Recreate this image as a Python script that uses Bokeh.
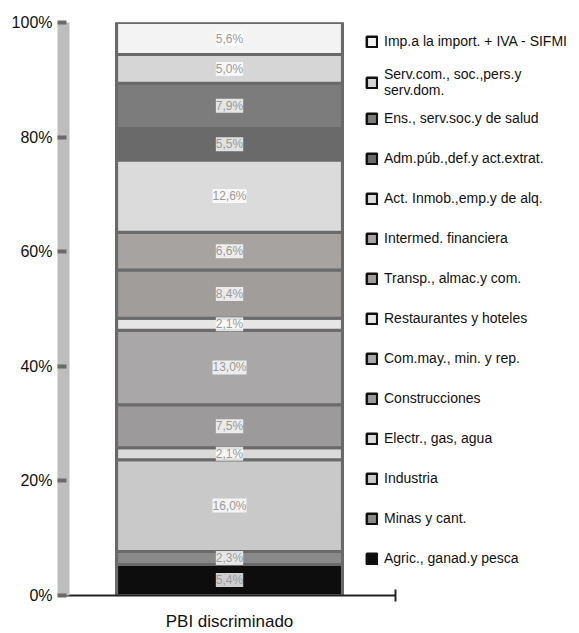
import numpy as np
from bokeh.plotting import figure
from bokeh.models import (Legend, LegendItem, FixedTicker, PrintfTickFormatter, LinearAxis,
                          LabelSet, ColumnDataSource)
from bokeh.core.properties import value
from bokeh.embed import file_html
from bokeh.resources import INLINE

# Sectors, bottom of the stack first
sectors = [
    "Agric., ganad.y pesca",
    "Minas y cant.",
    "Industria",
    "Electr., gas, agua",
    "Construcciones",
    "Com.may., min. y rep.",
    "Restaurantes y hoteles",
    "Transp., almac.y com.",
    "Intermed. financiera",
    "Act. Inmob.,emp.y de alq.",
    "Adm.púb.,def.y act.extrat.",
    "Ens., serv.soc.y de salud",
    "Serv.com., soc.,pers.y\nserv.dom.",
    "Imp.a la import. + IVA - SIFMI",
]
shares = [5.4, 2.3, 16.0, 2.1, 7.5, 13.0, 2.1, 8.4, 6.6, 12.6, 5.5, 7.9, 5.0, 5.6]
colors = ["#0d0d0d", "#8a8a8a", "#c9c9c9", "#dadada", "#9c9a9a", "#a9a7a7", "#e6e6e6",
          "#a19d9b", "#a7a3a1", "#dbdbdb", "#6a6a6a", "#7c7c7c", "#d6d6d6", "#f3f3f3"]
category = "PBI discriminado"
y_ticks = [0, 20, 40, 60, 80, 100]

tops = np.cumsum(shares)
bottoms = tops - np.array(shares)
mids = (tops + bottoms) / 2
share_labels = [f"{v:.1f}%".replace(".", ",") for v in shares]

p = figure(width=579, height=633, x_range=(0, 1.554), y_range=(0, 100),
           output_backend="svg", toolbar_location=None,
           min_border_left=63, min_border_right=0, min_border_top=22, min_border_bottom=37)
p.outline_line_color = None
p.xgrid.grid_line_color = None
p.ygrid.grid_line_color = None

# legend swatches: black-edged boxes under the bar segments
items = []
for lab, c, b, t in zip(sectors, colors, bottoms, tops):
    r = p.vbar(x=[0.5], width=0.68, bottom=[b], top=[t], fill_color=c,
               line_color="#111111", line_width=2.5)
    items.append(LegendItem(label=lab, renderers=[r]))
# visible bar segments with grey separators
for c, b, t in zip(colors, bottoms, tops):
    p.vbar(x=[0.5], width=0.68, bottom=[b], top=[t], fill_color=c,
           line_color="#6a6a6a", line_width=3)

# faint data labels in white boxes down the middle of the bar
lab_src = ColumnDataSource(dict(x=[0.5] * len(shares), y=mids, text=share_labels))
p.add_layout(LabelSet(x="x", y="y", text="text", source=lab_src,
                      text_align="center", text_baseline="middle",
                      text_font=value("Liberation Sans"), text_font_size=value("12px"),
                      text_color="#9a9a9a", text_line_height=1.6,
                      background_fill_color="white", background_fill_alpha=0.8))

items = items[::-1]
common = dict(orientation="vertical", glyph_width=13, glyph_height=13,
              padding=0, margin=0, label_standoff=6,
              border_line_color=None, background_fill_alpha=0,
              label_text_font="Liberation Sans", label_text_font_size="14px",
              label_text_color="#111111", label_text_line_height=1.15)

legend_top = Legend(items=items[:2], location=(302, 497), label_height=20, spacing=15, **common)
legend_rest = Legend(items=items[2:], location=(302, 27), label_height=20, spacing=20, **common)
p.add_layout(legend_top, "center")
p.add_layout(legend_rest, "center")

# y axis
ya = p.yaxis[0]
ya.ticker = FixedTicker(ticks=y_ticks, minor_ticks=[])
ya.formatter = PrintfTickFormatter(format="%d%%")
ya.axis_line_color = "#bdbdbd"
ya.axis_line_width = 12
ya.major_tick_line_color = "#6a6a6a"
ya.major_tick_line_width = 4
ya.major_tick_in = 3
ya.major_tick_out = 6
ya.major_label_standoff = 5
ya.major_label_text_font = "Liberation Sans"
ya.major_label_text_font_size = "16px"
ya.major_label_text_color = "#111111"

# x axis line (only across the bar area, ending with a tick)
xa = p.xaxis[0]
xa.bounds = (0, 1)
xa.ticker = FixedTicker(ticks=[1.0], minor_ticks=[])
xa.major_label_overrides = {1.0: ""}
xa.major_label_text_font_size = "0px"
xa.major_label_standoff = 0
xa.axis_line_color = "#222222"
xa.axis_line_width = 2
xa.major_tick_line_color = "#222222"
xa.major_tick_line_width = 2
xa.major_tick_in = 6
xa.major_tick_out = 6

# category label under the bar
xcat = LinearAxis(ticker=FixedTicker(ticks=[0.5], minor_ticks=[]),
                  major_label_overrides={0.5: category})
xcat.axis_line_color = None
xcat.major_tick_line_color = None
xcat.major_tick_out = 0
xcat.major_tick_in = 0
xcat.major_label_standoff = 10
xcat.major_label_text_font = "Liberation Sans"
xcat.major_label_text_font_size = "17px"
xcat.major_label_text_color = "#111111"
p.add_layout(xcat, "below")

open("out.html", "w").write(file_html(p, INLINE))
